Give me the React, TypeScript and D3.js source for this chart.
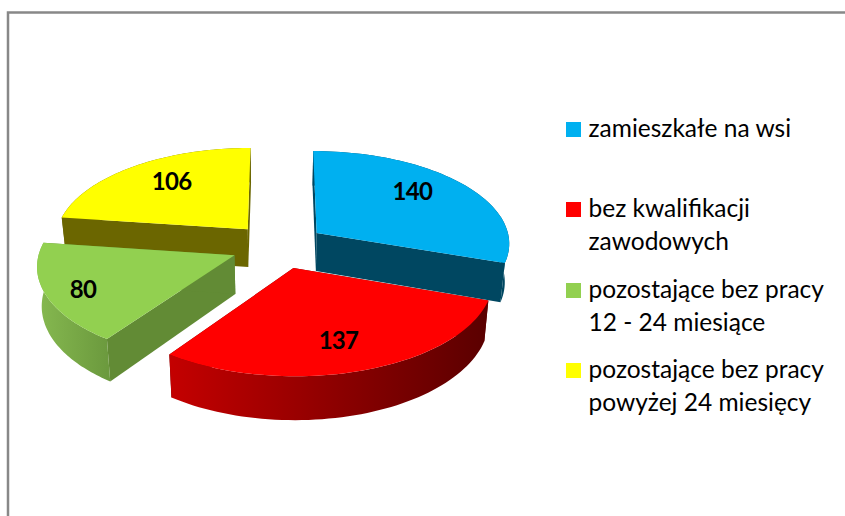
import React from "react";
import * as d3 from "d3";

const categories = ["zamieszkałe na wsi", "bez kwalifikacji zawodowych", "pozostające bez pracy 12 - 24 miesiące", "pozostające bez pracy powyżej 24 miesięcy"];
const values = [140, 137, 80, 106];
const legendLines = [["zamieszkałe na wsi"], ["bez kwalifikacji", "zawodowych"], ["pozostające bez pracy", "12 - 24 miesiące"], ["pozostające bez pracy", "powyżej 24 miesięcy"]];
const legendY = [137, 217, 298, 378];
const topColors = ["#00b0f0", "#ff0000", "#92d050", "#ffff00"];
const radialColors = ["#004761", "#640000", "#628b35", "#6b6600"];
const wallGradients = [
  ["#004761", "#004761"],
  ["#c40000", "#5a0000"],
  ["#86b950", "#6c9a3e"],
  ["#6b6600", "#6b6600"],
];
const labelRadius = [0.96, 0.966, 1.061, 0.958];
const labelTurnDeg = [-4.7, 1, -1.3, 3];
const drawOrder = [3, 0, 2, 1];

const W = 845, H = 516;
const cx = 278.5, cy = 246, Rx = 194, Ry = 92.6, k = 0.1, explode = 0.245, depth = 38.5, taper = 0.0005;

type P = [number, number];
const project = (X: number, V: number, h = 0): P => {
  const f = 1 / (1 - k * V);
  return [cx + Rx * X * f * (1 - taper * h), cy + (Ry * V + h) * f];
};

const arcs = d3.pie<number>().sort(null).startAngle(0).endAngle(2 * Math.PI)(values);
const line = d3.line<P>();

function App() {
  return (
    <svg width={W} height={H} viewBox={`0 0 ${W} ${H}`} style={{ position: "absolute", left: 0, top: 0, background: "#fff" }}>
      <defs>
        {arcs.map((a, i) => {
          const xs = d3.range(0, 41).map((t) => {
            const th = a.startAngle + ((a.endAngle - a.startAngle) * t) / 40;
            const mid = (a.startAngle + a.endAngle) / 2;
            return project(Math.sin(mid) * explode + Math.sin(th), -Math.cos(mid) * explode - Math.cos(th))[0];
          });
          return (
            <linearGradient key={i} id={`wall${i}`} gradientUnits="userSpaceOnUse" x1={d3.min(xs)} x2={d3.max(xs)} y1={0} y2={0}>
              <stop offset="0" stopColor={wallGradients[i][0]} />
              <stop offset="1" stopColor={wallGradients[i][1]} />
            </linearGradient>
          );
        })}
      </defs>
      <path d={`M${W},12.5H8V${H}`} fill="none" stroke="#888" strokeWidth={2.5} />
      {drawOrder.map((i) => {
        const a = arcs[i];
        const mid = (a.startAngle + a.endAngle) / 2;
        const ox = Math.sin(mid) * explode;
        const ov = -Math.cos(mid) * explode;
        const rim = (h: number): P[] =>
          d3.range(0, 61).map((t) => {
            const th = a.startAngle + ((a.endAngle - a.startAngle) * t) / 60;
            return project(ox + Math.sin(th), ov - Math.cos(th), h);
          });
        const apex = (h: number) => project(ox, ov, h);
        const top = rim(0);
        const bottom = rim(depth);
        const face = line([apex(0), ...top]) + "Z";
        const band = line([...top, ...bottom.slice().reverse()]) + "Z";
        const startWall = line([apex(0), top[0], bottom[0], apex(depth)]) + "Z";
        const endWall = line([apex(0), top[60], bottom[60], apex(depth)]) + "Z";
        return (
          <g key={i}>
            <path d={startWall} fill={radialColors[i]} />
            <path d={endWall} fill={radialColors[i]} />
            <path d={band} fill={`url(#wall${i})`} />
            <path d={face} fill={topColors[i]} />
          </g>
        );
      })}
      {arcs.map((a, i) => {
        const th = (a.startAngle + a.endAngle) / 2 + (labelTurnDeg[i] * Math.PI) / 180;
        const [x, y] = project(Math.sin(th) * labelRadius[i], -Math.cos(th) * labelRadius[i]);
        return (
          <text key={i} x={x} y={y + 8.5} textAnchor="middle" fontFamily="Lato" fontWeight={700} fontSize={24} letterSpacing={-0.7} fill="#000">
            {values[i]}
          </text>
        );
      })}
      {categories.map((c, i) => (
        <g key={c}>
          <rect x={566} y={legendY[i] - 15} width={15} height={15} fill={topColors[i]} />
          {legendLines[i].map((l, j) => (
            <text key={j} x={588.5} y={legendY[i] + j * 33} fontFamily="Lato" fontSize={24.5} fill="#000">
              {l}
            </text>
          ))}
        </g>
      ))}
    </svg>
  );
}

export default App;
